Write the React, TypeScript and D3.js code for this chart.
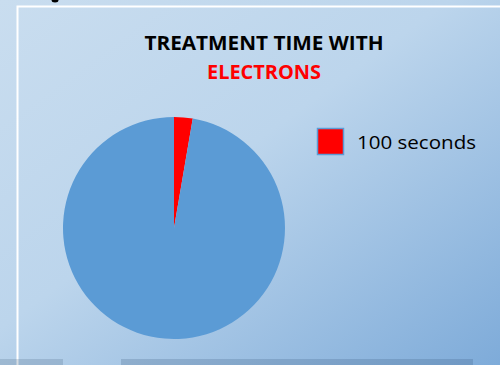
import React from "react";
import * as d3 from "d3";

const categories = ["100 seconds", ""];
const values = [100, 3600];
const colors = ["#ff0000", "#5b9bd5"];
const titleLines = ["TREATMENT TIME WITH", "ELECTRONS"];

export default function App() {
  const W = 500, H = 365;
  const cx = 174, cy = 228, r = 111;
  const pie = d3.pie<number>().sort(null).value((d) => d)(values);
  const arc = d3.arc<d3.PieArcDatum<number>>().innerRadius(0).outerRadius(r);
  const legendItems = categories
    .map((c, i) => ({ c, i }))
    .filter((d) => d.c !== "");
  return (
    <svg
      width={W}
      height={H}
      style={{ position: "fixed", left: 0, top: 0 }}
      fontFamily="'Open Sans', sans-serif"
    >
      <defs>
        <linearGradient id="bg" x1="0" y1="0" x2="1" y2="1">
          <stop offset="0" stopColor="#c9ddef" />
          <stop offset="0.45" stopColor="#bcd5ec" />
          <stop offset="1" stopColor="#7eabd9" />
        </linearGradient>
      </defs>
      <rect x={0} y={0} width={W} height={H} fill="url(#bg)" />
      <ellipse cx={55} cy={0} rx={3.5} ry={2.5} fill="#000" />
      <path d={`M17.5,${H} L17.5,6.5 L${W},6.5`} fill="none" stroke="#fff" strokeWidth={2} />
      <rect x={0} y={359} width={63} height={6} fill="rgba(70,95,125,0.22)" />
      <rect x={121} y={359} width={352} height={6} fill="rgba(50,80,120,0.22)" />
      <text x={264} y={49.5} textAnchor="middle" fontWeight="bold" fontSize={19.5} fill="#000" textLength={239} lengthAdjust="spacingAndGlyphs">
        {titleLines[0]}
      </text>
      <text x={264} y={79} textAnchor="middle" fontWeight="bold" fontSize={19.5} fill="#ff0000" textLength={114} lengthAdjust="spacingAndGlyphs">
        {titleLines[1]}
      </text>
      <g transform={`translate(${cx},${cy})`}>
        {pie.map((p, i) => (
          <path key={i} d={arc(p) || ""} fill={colors[i]} />
        ))}
      </g>
      {legendItems.map((d, k) => (
        <g key={k} transform={`translate(317,${128 + k * 30})`}>
          <rect x={0.5} y={0.5} width={26} height={26} fill={colors[d.i]} stroke="#5b9bd5" strokeWidth={1.5} />
          <text x={40} y={20.5} fontSize={18.5} fill="#000" textLength={119} lengthAdjust="spacingAndGlyphs">
            {d.c}
          </text>
        </g>
      ))}
    </svg>
  );
}
